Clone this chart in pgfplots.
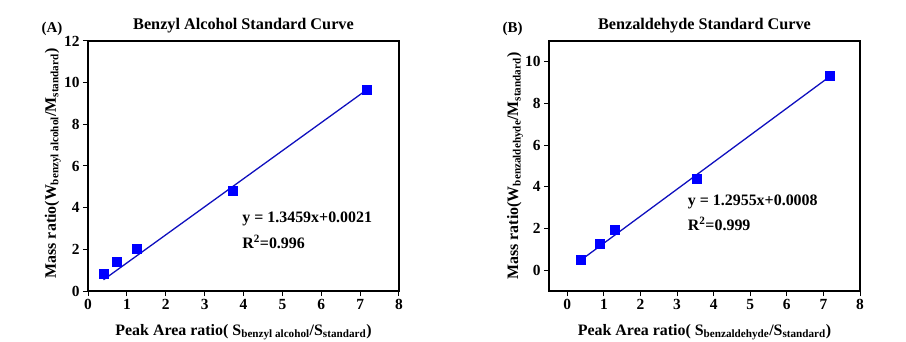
\documentclass[border=0pt]{standalone}
\usepackage{pgfplots}
\pgfplotsset{compat=1.18}
\usepackage{fontspec}
\setmainfont{Liberation Serif}
\definecolor{mk}{RGB}{0,0,255}
\definecolor{ln}{RGB}{15,15,190}
\pgfplotsset{
 mystyle/.style={
  scale only axis, width=311bp, height=250bp,
  axis line style={line width=1.3bp},
  tick style={line width=1bp, black},
  tick align=outside, major tick length=5bp,
  xtick pos=bottom, ytick pos=left,
  tick label style={font=\fontsize{15.5}{18}\selectfont\bfseries},
  /pgf/number format/assume math mode=true,
  xticklabel={\textbf{\pgfmathprintnumber[assume math mode=true]{\tick}}},
  yticklabel={\textbf{\pgfmathprintnumber[assume math mode=true]{\tick}}},
  label style={font=\fontsize{16}{19}\selectfont\bfseries},
  title style={font=\fontsize{16.3}{19}\selectfont\bfseries, at={(axis description cs:0.5,1.036)}, anchor=center},
  xlabel style={at={(axis description cs:0.5,-0.164)}, anchor=center},
  clip=false,
 },
 pts/.style={only marks, mark=square*, mark size=4.5bp, color=mk},
 fit/.style={no marks, color=ln, line width=1.3bp},
}
\begin{document}
\begin{tikzpicture}
\useasboundingbox (0,0) rectangle (906bp,342bp);
\begin{axis}[mystyle, at={(88bp,51bp)}, anchor=south west,
  xmin=0, xmax=8, ymin=0, ymax=12,
  xtick={0,1,...,8}, ytick={0,2,...,12},
  title={Benzyl Alcohol Standard Curve},
  xlabel={Peak Area ratio( S\textsubscript{benzyl alcohol}/S\textsubscript{standard})},
  ylabel={Mass ratio(W\textsubscript{benzyl alcohol}/M\textsubscript{standard})},
  ylabel style={at={(axis description cs:-0.113,0.51)}, anchor=center},
]
\addplot[fit] coordinates {(0.4,0.54) (7.18,9.67)};
\addplot[pts] coordinates {(0.41,0.82) (0.73,1.43) (1.26,2.04) (3.72,4.80) (7.18,9.65)};
\node[anchor=west, font=\fontsize{16}{19}\selectfont\bfseries] at (axis cs:3.88,3.46) {y = 1.3459x+0.0021};
\node[anchor=west, font=\fontsize{16}{19}\selectfont\bfseries] at (axis cs:3.88,2.35) {R\textsuperscript{2}=0.996};
\node[font=\fontsize{15}{18}\selectfont\bfseries] at (axis description cs:-0.116,1.048) {(A)};
\end{axis}
\begin{axis}[mystyle, at={(549bp,51bp)}, anchor=south west,
  xmin=-0.5, xmax=8, ymin=-1, ymax=11,
  xtick={0,1,...,8}, ytick={0,2,...,10},
  title={Benzaldehyde Standard Curve},
  xlabel={Peak Area ratio( S\textsubscript{benzaldehyde}/S\textsubscript{standard})},
  ylabel={Mass ratio(W\textsubscript{benzaldehyde}/M\textsubscript{standard})},
  ylabel style={at={(axis description cs:-0.109,0.5)}, anchor=center},
]
\addplot[fit] coordinates {(0.37,0.48) (7.17,9.29)};
\addplot[pts] coordinates {(0.37,0.51) (0.88,1.28) (1.30,1.92) (3.53,4.38) (7.17,9.33)};
\node[anchor=west, font=\fontsize{16}{19}\selectfont\bfseries] at (axis cs:3.2,3.27) {y = 1.2955x+0.0008};
\node[anchor=west, font=\fontsize{16}{19}\selectfont\bfseries] at (axis cs:3.2,2.21) {R\textsuperscript{2}=0.999};
\node[font=\fontsize{15}{18}\selectfont\bfseries] at (axis description cs:-0.117,1.048) {(B)};
\end{axis}
\end{tikzpicture}
\end{document}
